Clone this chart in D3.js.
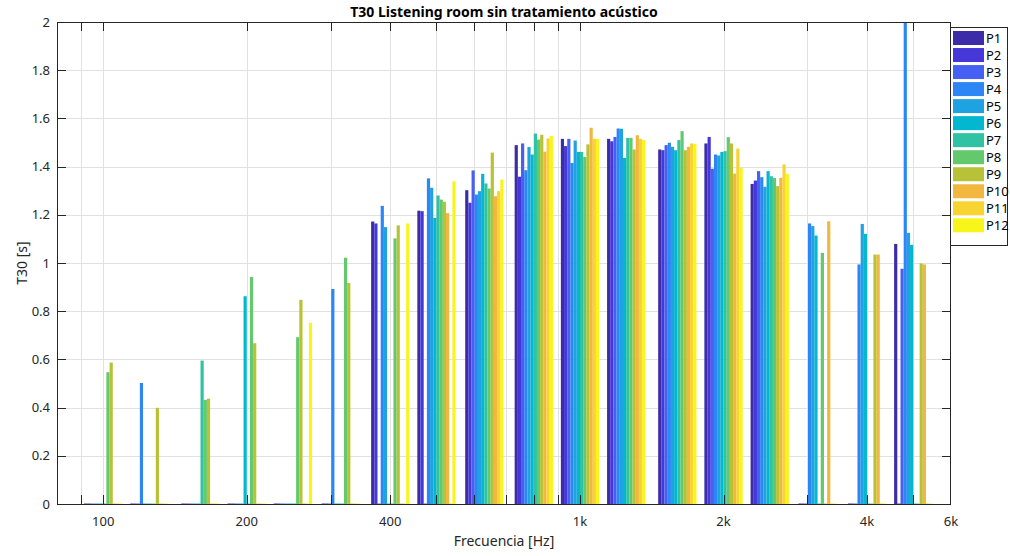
<!DOCTYPE html>
<html>
<head>
<meta charset="utf-8">
<script src="https://cdn.jsdelivr.net/npm/d3@7"></script>
<style>
  html, body { margin: 0; padding: 0; background: #ffffff; }
  svg { display: block; font-family: "Noto Sans", "Open Sans", sans-serif; }
</style>
</head>
<body>
<svg id="chart" width="1010" height="556"></svg>
<script>
// One-third octave band centres (Hz)
const bands = [100, 125, 160, 200, 250, 315, 400, 500, 630, 800, 1000, 1250, 1600, 2000, 2500, 3150, 4000, 5000];

// T30 per measurement position (s); 0 = no valid result in that band
const P1  = [0, 0, 0, 0, 0, 0, 1.170, 1.215, 1.300, 1.487, 1.513, 1.513, 1.469, 1.494, 1.326, 0, 0, 1.077];
const P2  = [0, 0, 0, 0, 0, 0, 1.162, 1.213, 1.248, 1.356, 1.483, 1.503, 1.466, 1.521, 1.340, 0, 0, 0];
const P3  = [0, 0, 0, 0, 0, 0, 0, 0, 1.382, 1.494, 1.513, 1.521, 1.487, 1.389, 1.379, 0, 0, 0.974];
const P4  = [0, 0.500, 0, 0, 0, 0.890, 1.235, 1.349, 1.282, 1.383, 1.413, 1.556, 1.497, 1.448, 1.354, 1.162, 0.992, 2.300];
const P5  = [0, 0, 0, 0, 0, 0, 1.147, 1.310, 1.296, 1.479, 1.506, 1.555, 1.480, 1.444, 1.314, 1.151, 1.160, 1.123];
const P6  = [0, 0, 0, 0.860, 0, 0, 0, 1.185, 1.368, 1.448, 1.459, 1.434, 1.466, 1.459, 1.379, 1.112, 1.119, 1.073];
const P7  = [0, 0, 0.593, 0, 0, 0, 0, 1.278, 1.328, 1.535, 1.459, 1.517, 1.508, 1.462, 1.358, 0, 0, 0];
const P8  = [0.545, 0, 0.430, 0.940, 0.690, 1.020, 1.100, 1.261, 1.307, 1.510, 1.438, 1.517, 1.545, 1.520, 1.351, 1.040, 0, 0];
const P9  = [0.585, 0.397, 0.435, 0.665, 0.845, 0.915, 1.154, 1.252, 1.456, 1.530, 1.490, 1.469, 1.466, 1.494, 1.317, 0, 1.033, 0.996];
const P10 = [0, 0, 0, 0, 0, 0, 0, 1.205, 1.275, 1.460, 1.559, 1.528, 1.480, 1.369, 1.351, 1.171, 1.033, 0.992];
const P11 = [0, 0, 0, 0, 0, 0, 0, 0, 1.296, 1.515, 1.513, 1.513, 1.494, 1.473, 1.407, 0, 0, 0];
const P12 = [0, 0, 0, 0, 0.750, 0, 1.162, 1.337, 1.344, 1.525, 1.513, 1.508, 1.492, 1.393, 1.368, 0, 0, 0];

const seriesNames = ["P1", "P2", "P3", "P4", "P5", "P6", "P7", "P8", "P9", "P10", "P11", "P12"];
const seriesValues = [P1, P2, P3, P4, P5, P6, P7, P8, P9, P10, P11, P12];

// Parula-style palette, one colour per position
const colors = ["#3c2ca8", "#4537d8", "#4760f4", "#2d86f5", "#1ea2e2", "#02b7cf",
                "#2fc3a3", "#63c96c", "#b8c236", "#f2b73f", "#f7d432", "#f8f51a"];

// Axis ticks
const xTickValues = [100, 200, 400, 1000, 2000, 4000, 6000];
const xTickLabels = ["100", "200", "400", "1k", "2k", "4k", "6k"];
const xMinorValues = [90, 100, 200, 300, 400, 500, 600, 700, 800, 900, 1000, 2000, 3000, 4000, 5000, 6000];
const yTickValues = [0, 0.2, 0.4, 0.6, 0.8, 1, 1.2, 1.4, 1.6, 1.8, 2];

const titleText = "T30 Listening room sin tratamiento acústico";
const xLabelText = "Frecuencia [Hz]";
const yLabelText = "T30 [s]";

// ---- layout ----
const plot = { left: 57, right: 951, top: 22, bottom: 504 };
const axisColor = "#262626";
const gridColor = "#e1e1e1";

const svg = d3.select("#chart");

const x = d3.scaleLog().domain([80, 6000]).range([plot.left, plot.right]);
const y = d3.scaleLinear().domain([0, 2]).range([plot.bottom, plot.top]);

// group width: 80% of one third of an octave on the log axis
const groupW = 0.8 * (x(1000 * Math.pow(2, 1 / 3)) - x(1000));
const barScale = d3.scaleBand().domain(seriesNames).range([-groupW / 2, groupW / 2]).padding(0);

svg.append("defs").append("clipPath").attr("id", "plotClip")
  .append("rect")
  .attr("x", plot.left).attr("y", plot.top)
  .attr("width", plot.right - plot.left).attr("height", plot.bottom - plot.top);

// grid
const grid = svg.append("g");
grid.selectAll("line.h").data(yTickValues.slice(1, -1)).join("line")
  .attr("x1", plot.left).attr("x2", plot.right)
  .attr("y1", d => Math.round(y(d)) + 0.5).attr("y2", d => Math.round(y(d)) + 0.5)
  .attr("stroke", gridColor).attr("stroke-width", 1);
grid.selectAll("line.v").data(xMinorValues.slice(0, -1)).join("line")
  .attr("x1", d => Math.round(x(d)) + 0.5).attr("x2", d => Math.round(x(d)) + 0.5)
  .attr("y1", plot.top).attr("y2", plot.bottom)
  .attr("stroke", gridColor).attr("stroke-width", 1);

// bars
const barsG = svg.append("g").attr("clip-path", "url(#plotClip)");
const cells = [];
bands.forEach((f, bi) => {
  seriesNames.forEach((name, si) => {
    cells.push({ f, name, si, v: seriesValues[si][bi] });
  });
});
barsG.selectAll("rect").data(cells).join("rect")
  .attr("x", d => x(d.f) + barScale(d.name))
  .attr("width", barScale.bandwidth())
  .attr("y", d => y(d.v) - 0.5)
  .attr("height", d => y(0) - y(d.v) + 1)
  .attr("fill", d => colors[d.si]);

// axes frame
const axes = svg.append("g").attr("stroke", axisColor).attr("stroke-width", 1).attr("fill", "none");
axes.append("rect")
  .attr("x", plot.left + 0.5).attr("y", plot.top + 0.5)
  .attr("width", plot.right - plot.left - 1).attr("height", plot.bottom - plot.top);

// inward ticks
const tickLen = 9;
const yTicks = yTickValues.slice(1, -1);
axes.selectAll("line.yl").data(yTicks).join("line")
  .attr("x1", plot.left).attr("x2", plot.left + tickLen)
  .attr("y1", d => Math.round(y(d)) + 0.5).attr("y2", d => Math.round(y(d)) + 0.5);
axes.selectAll("line.yr").data(yTicks).join("line")
  .attr("x1", plot.right - tickLen).attr("x2", plot.right)
  .attr("y1", d => Math.round(y(d)) + 0.5).attr("y2", d => Math.round(y(d)) + 0.5);
const xTicks = xMinorValues.slice(0, -1);
axes.selectAll("line.xb").data(xTicks).join("line")
  .attr("x1", d => Math.round(x(d)) + 0.5).attr("x2", d => Math.round(x(d)) + 0.5)
  .attr("y1", plot.bottom - tickLen).attr("y2", plot.bottom);
axes.selectAll("line.xt").data(xTicks).join("line")
  .attr("x1", d => Math.round(x(d)) + 0.5).attr("x2", d => Math.round(x(d)) + 0.5)
  .attr("y1", plot.top).attr("y2", plot.top + tickLen);

// tick labels
const fs = 13;
svg.append("g").selectAll("text").data(yTickValues).join("text")
  .attr("x", plot.left - 7)
  .attr("y", d => y(d))
  .attr("dy", "0.35em")
  .attr("text-anchor", "end")
  .attr("font-size", fs)
  .attr("fill", axisColor)
  .text(d => d3.format("~g")(d));

svg.append("g").selectAll("text").data(xTickValues).join("text")
  .attr("x", d => x(d))
  .attr("y", plot.bottom + 22)
  .attr("text-anchor", "middle")
  .attr("font-size", fs)
  .attr("fill", axisColor)
  .text((d, i) => xTickLabels[i]);

// titles
svg.append("text")
  .attr("x", (plot.left + plot.right) / 2).attr("y", 17)
  .attr("text-anchor", "middle")
  .attr("font-size", 14).attr("font-weight", "bold")
  .attr("fill", "#000")
  .text(titleText);

svg.append("text")
  .attr("x", (plot.left + plot.right) / 2).attr("y", 546)
  .attr("text-anchor", "middle")
  .attr("font-size", 14)
  .attr("fill", axisColor)
  .text(xLabelText);

svg.append("text")
  .attr("transform", `translate(27, ${(plot.top + plot.bottom) / 2}) rotate(-90)`)
  .attr("text-anchor", "middle")
  .attr("font-size", 14)
  .attr("fill", axisColor)
  .text(yLabelText);

// legend
const legend = svg.append("g").attr("transform", "translate(950, 27)");
const rowH = 17.03;
legend.append("rect")
  .attr("x", 0.5).attr("y", 0.5).attr("width", 57).attr("height", 218)
  .attr("fill", "#fff").attr("stroke", axisColor);
const rows = legend.selectAll("g.row").data(seriesNames).join("g")
  .attr("transform", (d, i) => `translate(0, ${4 + i * rowH})`);
rows.append("rect")
  .attr("x", 3).attr("y", 0).attr("width", 31).attr("height", 14)
  .attr("fill", (d, i) => colors[i]);
rows.append("text")
  .attr("x", 36).attr("y", 7).attr("dy", "0.35em")
  .attr("font-size", fs).attr("fill", "#000")
  .text(d => d);
</script>
</body>
</html>
